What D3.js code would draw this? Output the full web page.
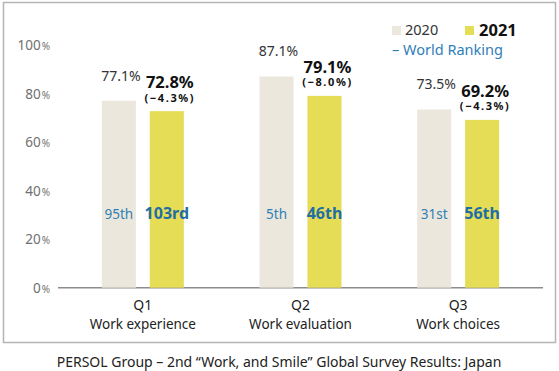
<!DOCTYPE html>
<html>
<head>
<meta charset="utf-8">
<script src="https://cdn.jsdelivr.net/npm/d3@7"></script>
<style>
  body { margin: 0; background: #fff; }
  text { font-family: "Noto Sans", "Open Sans", sans-serif; }
</style>
</head>
<body>
<svg id="chart" width="559" height="371"></svg>
<script>
// chart data
const questions = ["Q1", "Q2", "Q3"];
const questionNames = ["Work experience", "Work evaluation", "Work choices"];
const years = ["2020", "2021"];
const values2020 = [77.1, 87.1, 73.5];
const values2021 = [72.8, 79.1, 69.2];
const changes = ["(−4.3%)", "(−8.0%)", "(−4.3%)"];
const ranks2020 = ["95th", "5th", "31st"];
const ranks2021 = ["103rd", "46th", "56th"];
const yTicks = [0, 20, 40, 60, 80, 100];
const caption = "PERSOL Group – 2nd “Work, and Smile” Global Survey Results: Japan";

const color = {"2020": "#ebe7dc", "2021": "#e5dd55"};
const rankBlue = "#2f80b8";

var svg = d3.select("#chart");

// outer frame
svg.append("rect")
    .attr("x", 3.5).attr("y", 2.5)
    .attr("width", 552).attr("height", 340)
    .attr("fill", "none")
    .attr("stroke", "#b5b5b5")
    .attr("stroke-width", 1.5);

var x = d3.scaleBand().domain(questions).range([64, 537]);
var xInner = d3.scaleBand().domain(years).range([0, 82]).paddingInner(0.29);
var y = d3.scaleLinear().domain([0, 100]).range([287.7, 45.2]);

// y tick labels (number + small %)
var ticks = svg.append("g").selectAll("text")
    .data(yTicks)
    .enter()
    .append("text")
        .attr("x", 50)
        .attr("y", d => y(d) + 5)
        .attr("text-anchor", "end")
        .attr("fill", "#707070")
        .style("font-size", "13.5px");
ticks.append("tspan").text(d => d);
ticks.append("tspan").attr("dx", 1).style("font-size", "10px").text("%");

// axis line
svg.append("line")
    .attr("x1", 58).attr("x2", 543)
    .attr("y1", y(0)).attr("y2", y(0))
    .attr("stroke", "#8c8c8c")
    .attr("stroke-width", 1.5);

var rows = questions.map((q, i) => ({
    q: q, name: questionNames[i],
    v2020: values2020[i], v2021: values2021[i],
    change: changes[i], r2020: ranks2020[i], r2021: ranks2021[i]
}));

var groups = svg.selectAll("g.grp")
    .data(rows)
    .enter()
    .append("g")
        .attr("class", "grp")
        .attr("transform", d => `translate(${x(d.q) + x.bandwidth() / 2 - 41},0)`);

// bars
groups.append("rect")
    .attr("x", xInner("2020"))
    .attr("y", d => y(d.v2020))
    .attr("width", xInner.bandwidth())
    .attr("height", d => y(0) - y(d.v2020))
    .attr("fill", color["2020"]);
groups.append("rect")
    .attr("x", xInner("2021"))
    .attr("y", d => y(d.v2021))
    .attr("width", xInner.bandwidth())
    .attr("height", d => y(0) - y(d.v2021))
    .attr("fill", color["2021"]);

var c20 = xInner("2020") + xInner.bandwidth() / 2;
var c21 = xInner("2021") + xInner.bandwidth() / 2;

// value labels
groups.append("text")
    .attr("x", c20 + 2)
    .attr("y", d => y(d.v2020) - 20)
    .attr("text-anchor", "middle")
    .attr("fill", "#333")
    .style("font-size", "14px")
    .text(d => d.v2020.toFixed(1) + "%");
groups.append("text")
    .attr("x", c21 + 3)
    .attr("y", d => y(d.v2021) - 23)
    .attr("text-anchor", "middle")
    .attr("fill", "#111")
    .style("font-size", "16.5px")
    .style("font-weight", "bold")
    .text(d => d.v2021.toFixed(1) + "%");
groups.append("text")
    .attr("x", c21 + 3)
    .attr("y", d => y(d.v2021) - 9.5)
    .attr("text-anchor", "middle")
    .attr("fill", "#111")
    .style("font-size", "11px")
    .style("font-weight", "bold")
    .style("letter-spacing", "1.6px")
    .text(d => d.change);

// rankings
groups.append("text")
    .attr("x", c20)
    .attr("y", 218.5)
    .attr("text-anchor", "middle")
    .attr("fill", rankBlue)
    .style("font-size", "13.5px")
    .text(d => d.r2020);
groups.append("text")
    .attr("x", c21)
    .attr("y", 218.5)
    .attr("text-anchor", "middle")
    .attr("fill", "#1f6ea5")
    .style("font-size", "16px")
    .style("font-weight", "bold")
    .text(d => d.r2021);

// category labels
groups.append("text")
    .attr("x", 41)
    .attr("y", 310)
    .attr("text-anchor", "middle")
    .attr("fill", "#222")
    .style("font-size", "14px")
    .text(d => d.q);
groups.append("text")
    .attr("x", 41)
    .attr("y", 329)
    .attr("text-anchor", "middle")
    .attr("fill", "#222")
    .style("font-size", "13.5px")
    .text(d => d.name);

// legend
var legend = svg.append("g");
legend.append("rect").attr("x", 392).attr("y", 26).attr("width", 9).attr("height", 9).attr("fill", color["2020"]);
legend.append("text").attr("x", 405).attr("y", 35).attr("fill", "#333").style("font-size", "14.5px").text("2020");
legend.append("rect").attr("x", 465).attr("y", 26).attr("width", 9).attr("height", 9).attr("fill", color["2021"]);
legend.append("text").attr("x", 479).attr("y", 35.5).attr("fill", "#111").style("font-size", "16.5px").style("font-weight", "bold").text("2021");
legend.append("text").attr("x", 392).attr("y", 54.5).attr("fill", rankBlue).style("font-size", "14.5px").text("– World Ranking");

// caption
svg.append("text")
    .attr("x", 279)
    .attr("y", 367)
    .attr("text-anchor", "middle")
    .attr("fill", "#222")
    .style("font-size", "14px")
    .text(caption);
</script>
</body>
</html>
